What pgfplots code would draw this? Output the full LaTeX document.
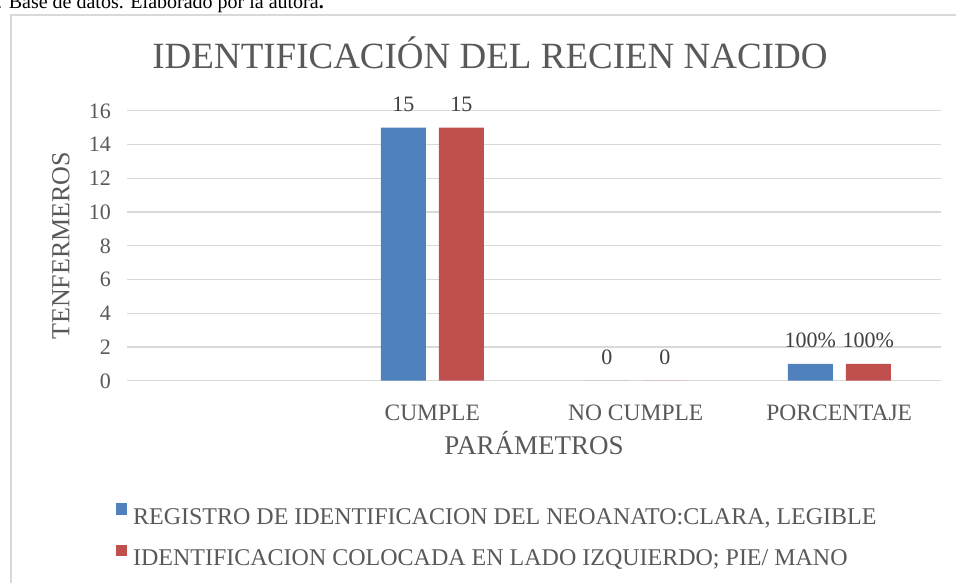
\documentclass[border=0pt]{standalone}
\usepackage{fontspec}
\setmainfont{Liberation Serif}
\usepackage{pgfplots}
\pgfplotsset{compat=1.18}
\definecolor{cblue}{HTML}{4F81BD}
\definecolor{cred}{HTML}{C0504D}
\definecolor{gridc}{HTML}{D9D9D9}
\definecolor{txt}{HTML}{595959}
\definecolor{lab}{HTML}{404040}
\newcommand\fs[1]{\fontsize{#1}{#1}\selectfont}
\begin{document}
\begin{tikzpicture}[x=1pt,y=1pt]
\useasboundingbox (0,0) rectangle (956,582);
\fill[white] (0,0) rectangle (956,582);
\node[anchor=base west, inner sep=0pt, font=\fs{20}] at (-3,573) {. Base de datos. Elaborado por la autora\textbf{.}};
\draw[gridc, line width=1.5pt] (11,-5) -- (11,567) -- (970,567);
\node[anchor=base, inner sep=0pt, font=\fs{37}, text=txt] at (490,513.7) {IDENTIFICACIÓN DEL RECIEN NACIDO};
\begin{axis}[
  at={(127pt,201.3pt)}, anchor=south west,
  scale only axis, width=814pt, height=270pt,
  xmin=-0.5, xmax=3.5, ymin=0, ymax=16,
  ybar=13pt, bar width=45pt,
  xtick={0,1,2,3}, xticklabels={{},CUMPLE,NO CUMPLE,PORCENTAJE},
  ytick={0,2,...,16},
  ymajorgrids, grid style={gridc, line width=1.2pt},
  axis line style={draw=none}, major tick style={draw=none},
  /pgf/number format/assume math mode=true,
  xticklabel style={font=\fs{23.5}, text=txt, anchor=base, yshift=-36pt},
  yticklabel style={font=\fs{22}, text=txt, anchor=base east, xshift=-12.7pt, yshift=-7.4pt},
  xlabel={PARÁMETROS}, ylabel={TENFERMEROS},
  every axis x label/.style={at={(axis description cs:0.5,0)}, anchor=base, yshift=-73.3pt, font=\fs{27}, text=txt},
  every axis y label/.style={at={(axis description cs:0,0.5)}, rotate=90, anchor=center, yshift=66pt, font=\fs{26}, text=txt},
  nodes near coords, point meta=explicit symbolic,
  every node near coord/.append style={font=\fs{22}, text=lab, anchor=base, yshift=16.3pt},
  legend style={at={(axis description cs:0,0)}, anchor=north west, xshift=-11.4pt, yshift=-122.6pt,
    draw=none, fill=none, inner sep=0pt, outer sep=0pt, font=\fs{24}, text=txt,
    row sep=20pt, column sep=6pt, nodes={inner sep=0pt, text height=16pt, text depth=0pt}},
  legend cell align=left,
  legend image code/.code={\fill[#1] (0pt,1.6pt) rectangle (11.5pt,13.3pt);},
]
\addplot[fill=cblue, draw=none] coordinates {(1,15) [15] (2,0) [0] (3,1) [100\%]};
\addplot[fill=cred, draw=none] coordinates {(1,15) [15] (2,0) [0] (3,1) [100\%]};
\legend{{REGISTRO DE IDENTIFICACION DEL NEOANATO:CLARA, LEGIBLE}, {IDENTIFICACION COLOCADA EN LADO IZQUIERDO; PIE/ MANO}}
\end{axis}
\end{tikzpicture}
\end{document}
